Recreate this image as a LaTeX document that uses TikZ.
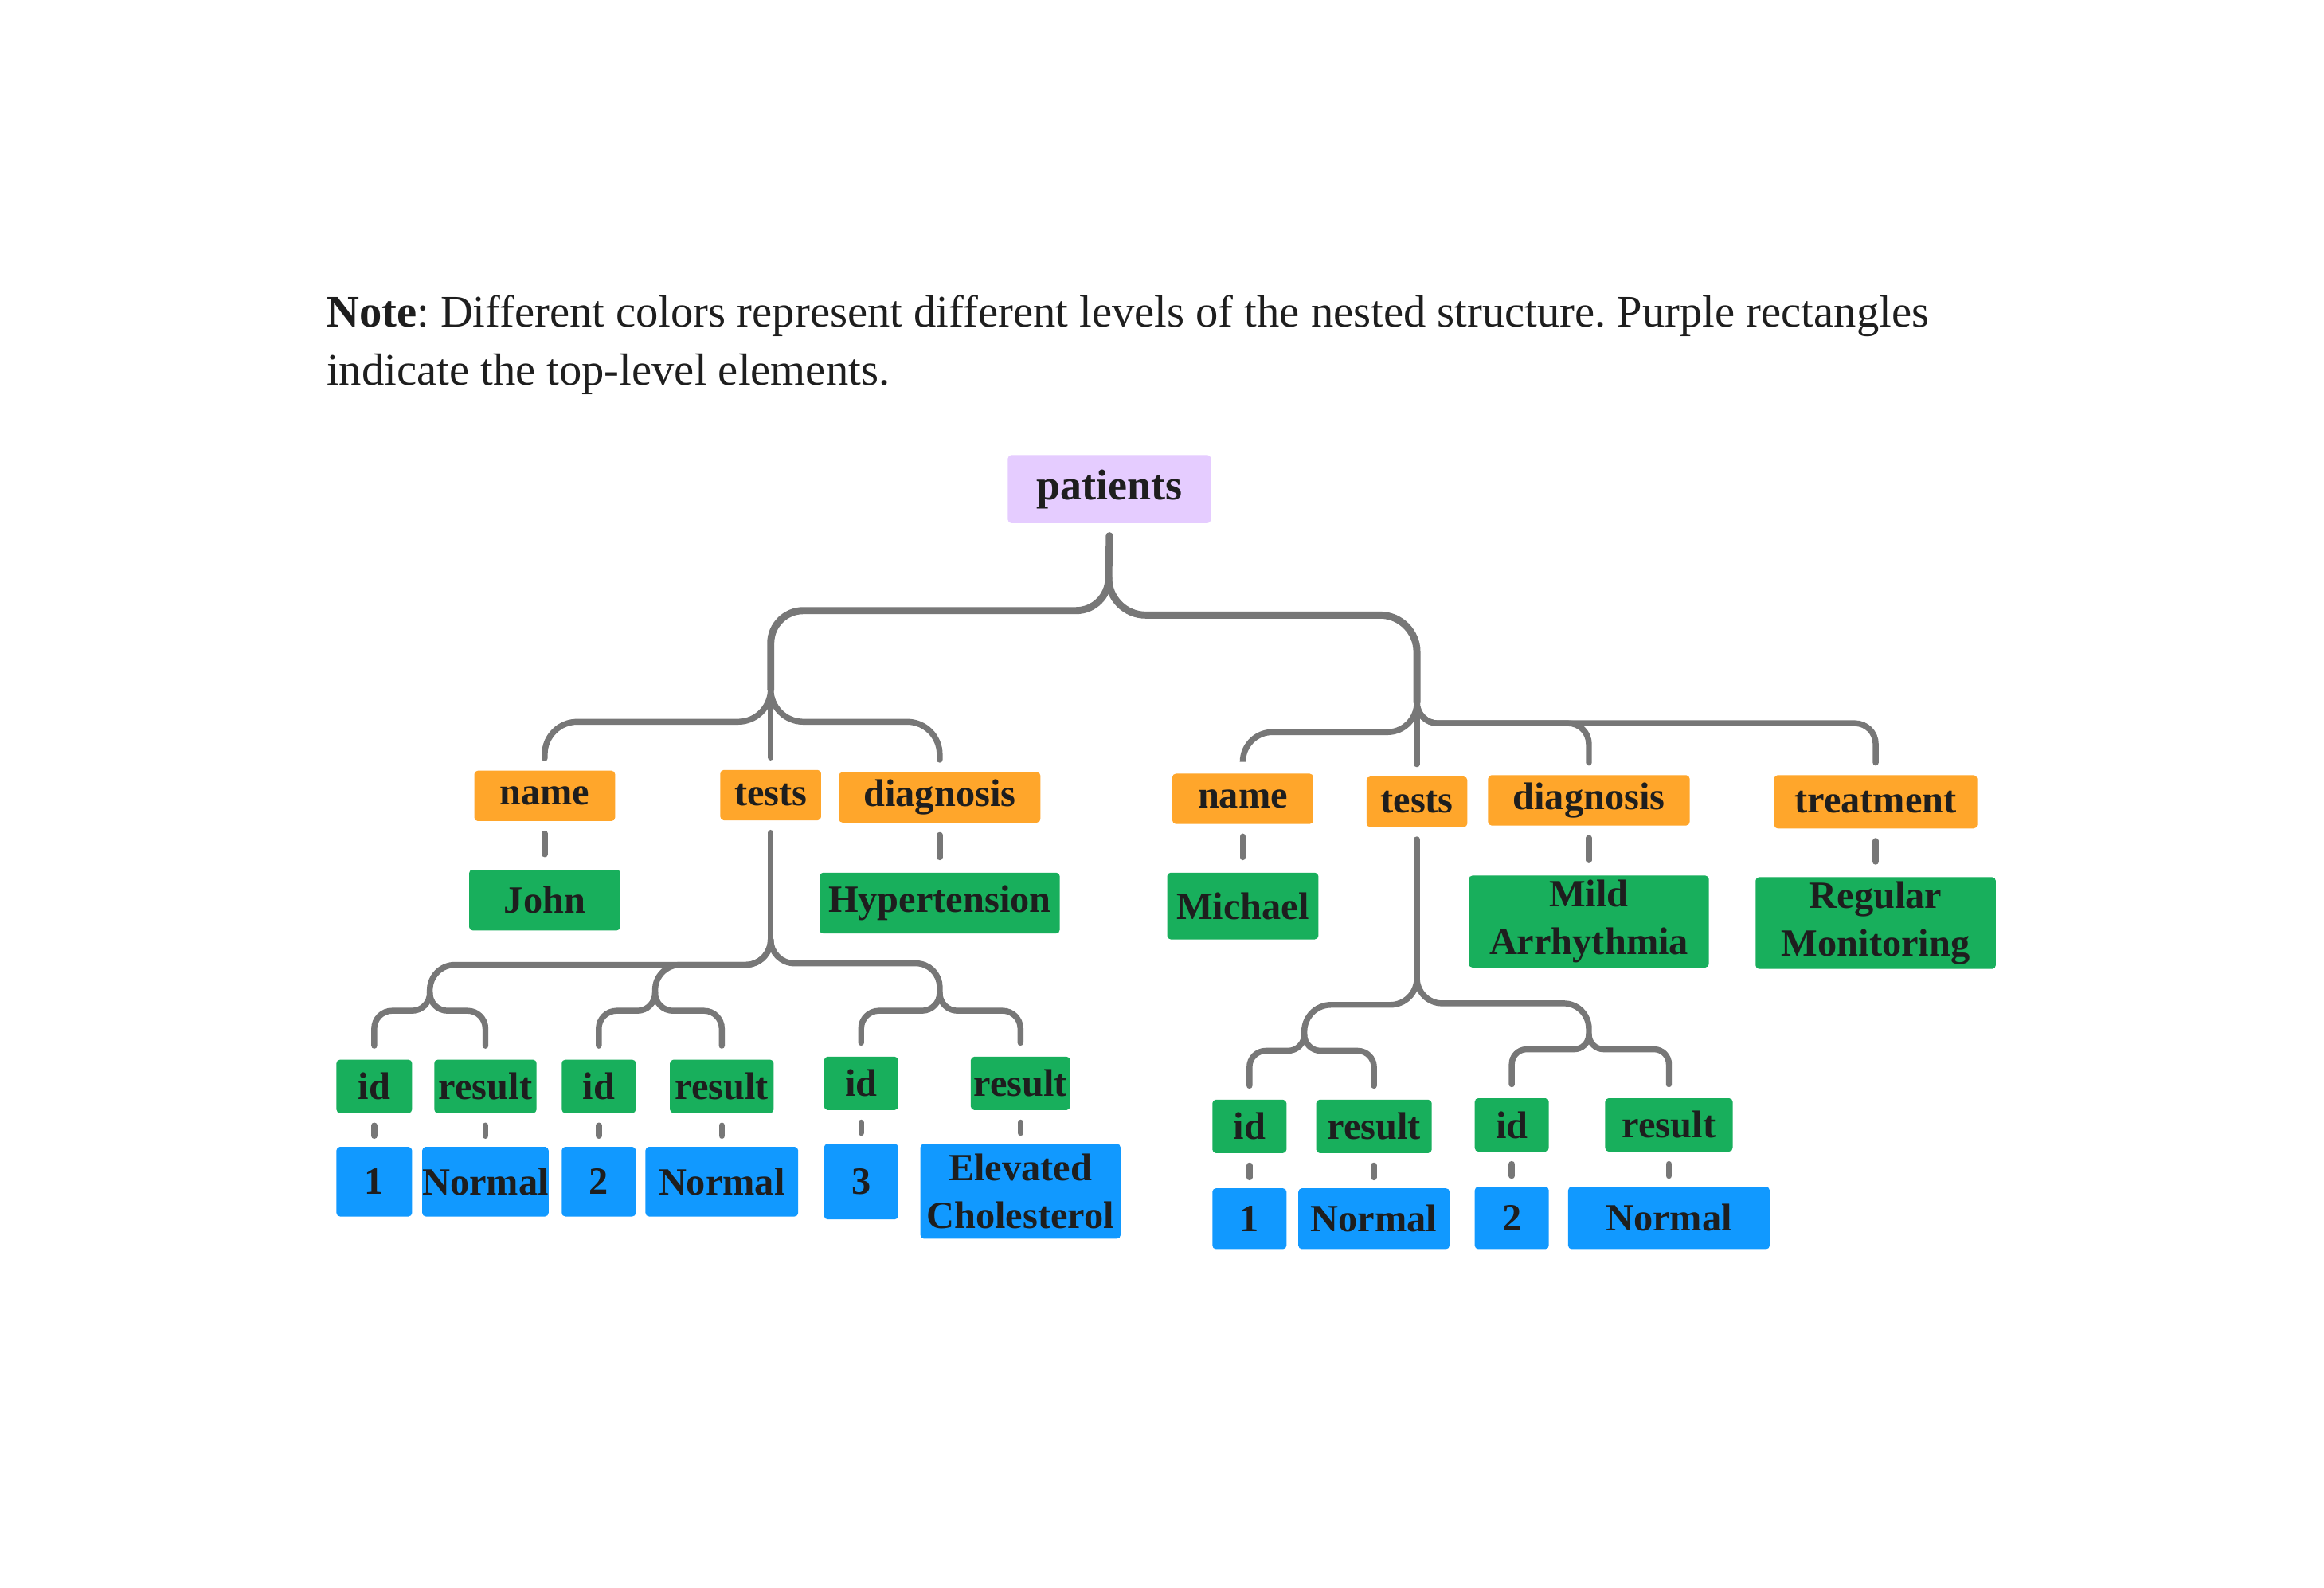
\documentclass[tikz,border=0pt]{standalone}
\usepackage{fontspec}
\setmainfont{Liberation Serif}
\usetikzlibrary{positioning}

\definecolor{rootpurple}{HTML}{E5CCFF}
\definecolor{keyorange}{HTML}{FFA62B}
\definecolor{valgreen}{HTML}{18AF5C}
\definecolor{leafblue}{HTML}{1199FF}
\definecolor{linkgray}{HTML}{777777}
\definecolor{ink}{HTML}{1E1E1E}

\begin{document}
\frenchspacing
\begin{tikzpicture}[x=0.5pt, y=-0.5pt,
    box/.style={rectangle, rounded corners=1.2pt, inner sep=0pt, text=ink, align=center, font=\bfseries\fontsize{13}{16}\selectfont},
    root/.style={box, fill=rootpurple, font=\bfseries\fontsize{14.5}{17}\selectfont},
    keybox/.style={box, fill=keyorange, minimum height=17pt},
    valbox/.style={box, fill=valgreen},
    testkey/.style={box, fill=valgreen, minimum height=18pt},
    leafbox/.style={box, fill=leafblue},
    every edge/.append style={draw=linkgray, line width=2pt, line cap=round},
    trunk/.style={line width=2.4pt},
    fork/.style={rounded corners=#1, to path={-- ++(0pt,-#1) -| (\tikztotarget)}}]

\fill[white] (0,0) rectangle (1568,1071);
\useasboundingbox (0,0) rectangle (1568,1071);

\node[anchor=north west, align=left, inner sep=0pt, text=ink, font=\fontsize{15.2}{19.5}\selectfont] (note) at (220,199)
  {\textbf{Note}: Different colors represent different levels of the nested structure. Purple rectangles\\indicate the top-level elements.};

% top level
\node[root, minimum width=68.5pt, minimum height=23pt] (pat) at (748.5,330) {patients};

% keys of each patient
\node[keybox, minimum width=47.5pt] (n1) at (367.5,537) {name};
\node[keybox, minimum width=34pt] (t1) at (520,536.5) {tests};
\node[keybox, minimum width=68pt] (d1) at (634,538) {diagnosis};
\node[keybox, minimum width=47.5pt] (n2) at (838.5,539) {name};
\node[keybox, minimum width=34pt] (t2) at (956,541) {tests};
\node[keybox, minimum width=68pt] (d2) at (1072,540) {diagnosis};
\node[keybox, minimum width=68.5pt, minimum height=18pt] (tr2) at (1265.5,541) {treatment};

% values
\node[valbox, minimum width=51pt, minimum height=20.5pt] (v1) [below=16pt of n1] {John};
\node[valbox, minimum width=81pt, minimum height=20.5pt] (v2) [below=16.5pt of d1] {Hypertension};
\node[valbox, minimum width=51pt, minimum height=22.5pt] (v3) [below=16pt of n2] {Michael};
\node[valbox, minimum width=81pt, minimum height=31pt] (v4) [below=16.5pt of d2] {Mild\\Arrhythmia};
\node[valbox, minimum width=81pt, minimum height=31pt] (v5) [below=16pt of tr2] {Regular\\Monitoring};

% test entries
\node[testkey, minimum width=25.5pt] (i11) at (252.5,733) {id};
\node[testkey, minimum width=34.5pt] (r11) at (327.5,733) {result};
\node[testkey, minimum width=25pt] (i12) at (404,733) {id};
\node[testkey, minimum width=35pt] (r12) at (487,733) {result};
\node[testkey, minimum width=25pt] (i13) at (581,731) {id};
\node[testkey, minimum width=33.5pt] (r13) at (688.5,731) {result};
\node[testkey, minimum width=25pt] (i21) at (843,760) {id};
\node[testkey, minimum width=39pt] (r21) at (927,760) {result};
\node[testkey, minimum width=25pt] (i22) at (1020,759) {id};
\node[testkey, minimum width=43pt] (r22) at (1126,759) {result};

\node[leafbox, minimum width=25.5pt, minimum height=23.5pt] (a11) [below=11pt of i11] {1};
\node[leafbox, minimum width=42.5pt, minimum height=23.5pt] (b11) [below=11pt of r11] {Normal};
\node[leafbox, minimum width=25pt, minimum height=23.5pt] (a12) [below=11pt of i12] {2};
\node[leafbox, minimum width=51.5pt, minimum height=23.5pt] (b12) [below=11pt of r12] {Normal};
\node[leafbox, minimum width=25pt, minimum height=25.5pt] (a13) [below=11pt of i13] {3};
\node[leafbox, minimum width=67.5pt, minimum height=32pt] (b13) [below=11pt of r13] {Elevated\\Cholesterol};
\node[leafbox, minimum width=25pt, minimum height=20.5pt] (a21) [below=11.5pt of i21] {1};
\node[leafbox, minimum width=51pt, minimum height=20.5pt] (b21) [below=11.5pt of r21] {Normal};
\node[leafbox, minimum width=25pt, minimum height=21pt] (a22) [below=11.5pt of i22] {2};
\node[leafbox, minimum width=68pt, minimum height=21pt] (b22) [below=11.5pt of r22] {Normal};

% junctions
\coordinate (rf) at (748,390);
\coordinate (p1) at (520,465);
\coordinate (p2) at (956,474);
\coordinate (tf1) at (520,634);
\coordinate (t11) at (290,670);
\coordinate (t12) at (442,670);
\coordinate (t13) at (634,670);
\coordinate (tf2) at (956,660);
\coordinate (t21) at (880,698);
\coordinate (t22) at (1072,698);

\path
    ([yshift=-4pt]pat.south) edge[trunk] (rf)
    (rf) edge[trunk, fork=11pt] (p1)
    (rf) edge[trunk, fork=12.5pt] (p2)
    (p1) edge[fork=11pt] ([yshift=4pt]n1.north)
    (p1) edge ([yshift=4pt]t1.north)
    (p1) edge[fork=11pt] ([yshift=4pt]d1.north)
    (p2) edge[fork=10pt] ([yshift=4pt]n2.north)
    (p2) edge ([yshift=4pt]t2.north)
    (p2) edge[fork=7pt] ([yshift=4pt]d2.north)
    (p2) edge[fork=7pt] ([yshift=4pt]tr2.north);

\path
    ([yshift=-4pt]n1.south) edge ([yshift=5pt]v1.north)
    ([yshift=-4pt]d1.south) edge ([yshift=5pt]v2.north)
    ([yshift=-4pt]n2.south) edge ([yshift=5pt]v3.north)
    ([yshift=-4pt]d2.south) edge ([yshift=5pt]v4.north)
    ([yshift=-4pt]tr2.south) edge ([yshift=5pt]v5.north);

% tests of John
\path
    ([yshift=-4pt]t1.south) edge (tf1)
    (tf1) edge[fork=8.5pt] (t11)
    (tf1) edge[fork=8.5pt] (t12)
    (tf1) edge[fork=8pt] (t13)
    (t11) edge[fork=6pt] ([yshift=4.5pt]i11.north)
    (t11) edge[fork=6pt] ([yshift=4.5pt]r11.north)
    (t12) edge[fork=6pt] ([yshift=4.5pt]i12.north)
    (t12) edge[fork=6pt] ([yshift=4.5pt]r12.north)
    (t13) edge[fork=6pt] ([yshift=4.5pt]i13.north)
    (t13) edge[fork=6pt] ([yshift=4.5pt]r13.north);

% tests of Michael
\path
    ([yshift=-4pt]t2.south) edge (tf2)
    (tf2) edge[fork=9pt] (t21)
    (tf2) edge[fork=8.5pt] (t22)
    (t21) edge[fork=5.5pt] ([yshift=4.5pt]i21.north)
    (t21) edge[fork=5.5pt] ([yshift=4.5pt]r21.north)
    (t22) edge[fork=5pt] ([yshift=4.5pt]i22.north)
    (t22) edge[fork=5pt] ([yshift=4.5pt]r22.north);

\path
    ([yshift=-4pt]i11.south) edge ([yshift=3.5pt]a11.north)
    ([yshift=-4pt]r11.south) edge ([yshift=3.5pt]b11.north)
    ([yshift=-4pt]i12.south) edge ([yshift=3.5pt]a12.north)
    ([yshift=-4pt]r12.south) edge ([yshift=3.5pt]b12.north)
    ([yshift=-4pt]i13.south) edge ([yshift=3.5pt]a13.north)
    ([yshift=-4pt]r13.south) edge ([yshift=3.5pt]b13.north)
    ([yshift=-4pt]i21.south) edge ([yshift=3.5pt]a21.north)
    ([yshift=-4pt]r21.south) edge ([yshift=3.5pt]b21.north)
    ([yshift=-4pt]i22.south) edge ([yshift=3.5pt]a22.north)
    ([yshift=-4pt]r22.south) edge ([yshift=3.5pt]b22.north);
\end{tikzpicture}
\end{document}
